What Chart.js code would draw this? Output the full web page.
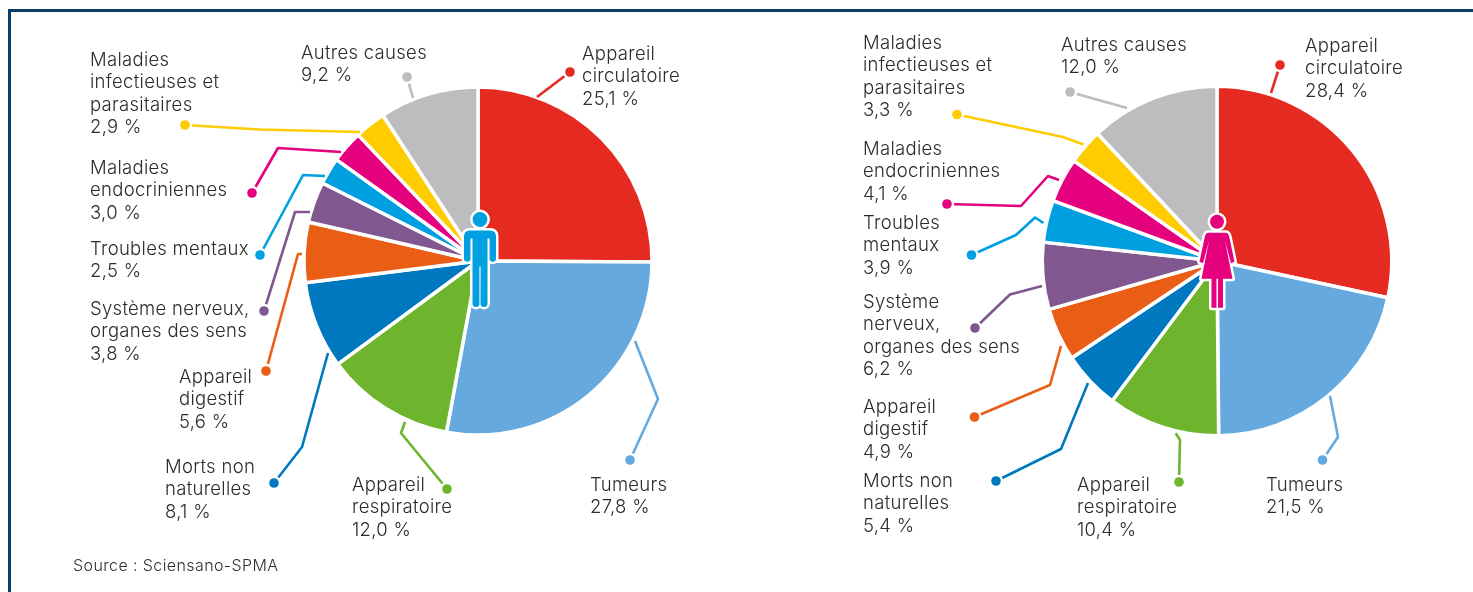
<!DOCTYPE html>
<html><head><meta charset="utf-8">
<style>
html,body{margin:0;padding:0;background:#fff;width:1473px;height:592px;overflow:hidden}
canvas{position:absolute;left:0;top:0}
#frame{position:absolute;left:8px;top:9px;width:1473px;height:600px;border-left:3px solid #0b3f6b;border-top:3px solid #0b3f6b}
</style>
<script src="https://cdn.jsdelivr.net/npm/chart.js@4"></script>
</head><body>
<div id="frame"></div>
<canvas id="men" width="1473" height="592"></canvas>
<canvas id="women" width="1473" height="592"></canvas>
<script>
const categories = ["Appareil circulatoire","Tumeurs","Appareil respiratoire","Morts non naturelles","Appareil digestif","Système nerveux, organes des sens","Troubles mentaux","Maladies endocriniennes","Maladies infectieuses et parasitaires","Autres causes"];
const menValues = [25.1,27.8,12.0,8.1,5.6,3.8,2.5,3.0,2.9,9.2];
const womenValues = [28.4,21.5,10.4,5.4,4.9,6.2,3.9,4.1,3.3,12.0];
const sliceColors = ["#E52A21","#66A9DE","#6EB52D","#0078BF","#EA5D15","#80578F","#009FE0","#E5007D","#FFCC00","#BDBDBF"];
const menLabelLines = [["Appareil","circulatoire"],["Tumeurs"],["Appareil","respiratoire"],["Morts non","naturelles"],["Appareil","digestif"],["Système nerveux,","organes des sens"],["Troubles mentaux"],["Maladies","endocriniennes"],["Maladies","infectieuses et","parasitaires"],["Autres causes"]];
const womenLabelLines = [["Appareil","circulatoire"],["Tumeurs"],["Appareil","respiratoire"],["Morts non","naturelles"],["Appareil","digestif"],["Système","nerveux,","organes des sens"],["Troubles","mentaux"],["Maladies","endocriniennes"],["Maladies","infectieuses et","parasitaires"],["Autres causes"]];
const sourceText = "Source : Sciensano-SPMA";

// layout only: label anchor [x, first baseline] and leader polyline (dot first)
const menLabelPos = [[582,60],[590,491],[352,491],[165,473],[179,383],[90,315],[90,255],[90,174],[90,66],[301,59]];
const womenLabelPos = [[1305,52],[1266,491],[1077,491],[863,487],[863,413],[863,308],[863,229],[863,155],[863,49],[1061,51]];
const menLeaders = [
 [[570,72],[537,97]],[[630,460],[658,399],[635,341]],[[447,489],[401,433],[405,422]],[[274,483],[302,447],[328,353]],
 [[266,371],[298,254],[302,254]],[[264,311],[295,212],[310,212]],[[260,255],[303,175],[325,176]],[[252,193],[278,148],[341,152]],
 [[185,125],[260,129.5],[360,132]],[[407,77],[413,98]]];
const womenLeaders = [
 [[1280,65],[1271,93]],[[1322.5,460],[1338,437],[1330,396]],[[1179,482],[1180,440],[1175.7,433.3]],[[996,481],[1061,449],[1088,383]],
 [[974.5,417],[1050,385],[1061,346]],[[975,328],[1010,294.5],[1042,286]],[[971.5,255],[1016,235],[1035,217.5],[1043.5,223]],[[947,204],[1021,206],[1048,176],[1059,180]],
 [[957,114.5],[1063,137],[1083.5,144.5]],[[1070,92],[1127,108]]];

const FONT = '300 18.5px Inter, Lato, sans-serif';
const TEXT = '#2c2c2c';
const LH = 22.3;
function pct(v){return v.toFixed(1).replace('.',',')+' %';}

function drawMan(c,x,y){ // head centre x,y
  const body = ()=>{
    c.beginPath();
    c.moveTo(x-16,y+17);c.quadraticCurveTo(x-16,y+11,x-10,y+11);c.lineTo(x+10,y+11);c.quadraticCurveTo(x+16,y+11,x+16,y+17);
    c.lineTo(x+16,y+39);c.arc(x+12.8,y+39,3.2,0,Math.PI);c.lineTo(x+9.5,y+19);c.lineTo(x+7.5,y+19);
    c.lineTo(x+7.5,y+84);c.arc(x+4,y+84,3.5,0,Math.PI);c.lineTo(x+.6,y+47);c.lineTo(x-.6,y+47);
    c.lineTo(x-.6,y+84);c.arc(x-4,y+84,3.5,0,Math.PI);c.lineTo(x-7.5,y+19);c.lineTo(x-9.5,y+19);
    c.lineTo(x-9.5,y+39);c.arc(x-12.8,y+39,3.2,0,Math.PI);c.closePath();
  };
  figure(c,x,y,7.4,body,'#009FE0');
}
function drawWoman(c,x,y){
  const body = ()=>{
    c.beginPath();
    c.moveTo(x-9,y+11);c.lineTo(x+9,y+11);
    c.quadraticCurveTo(x+11,y+11,x+12,y+14);c.lineTo(x+17.5,y+40);c.lineTo(x+14,y+41.5);c.lineTo(x+8,y+19);
    c.lineTo(x+15.5,y+57);c.lineTo(x+6,y+57);c.lineTo(x+6,y+86);c.lineTo(x+1,y+86);c.lineTo(x+1,y+57);
    c.lineTo(x-.5,y+57);c.lineTo(x-.5,y+86);c.lineTo(x-5.5,y+86);c.lineTo(x-5.5,y+57);c.lineTo(x-15.5,y+57);
    c.lineTo(x-8,y+19);c.lineTo(x-14,y+41.5);c.lineTo(x-17.5,y+40);c.lineTo(x-12,y+14);
    c.quadraticCurveTo(x-11,y+11,x-9,y+11);c.closePath();
  };
  figure(c,x,y,7,body,'#E5007D');
}
function figure(c,x,y,r,body,col){
  c.save();c.lineJoin='round';c.strokeStyle='#fff';c.lineWidth=5;c.fillStyle='#fff';
  c.beginPath();c.arc(x,y,r+2.5,0,Math.PI*2);c.fill();
  body();c.stroke();c.fill();
  c.fillStyle=col;
  c.beginPath();c.arc(x,y,r,0,Math.PI*2);c.fill();
  body();c.fill();
  c.restore();
}

function annotations(values,lines,pos,leaders,icon,extra){
  return {id:'annot',afterDraw(chart){
    const c=chart.ctx;c.save();
    leaders.forEach((pts,i)=>{
      c.strokeStyle=sliceColors[i];c.lineWidth=2.6;c.lineJoin='round';
      c.beginPath();pts.forEach((p,j)=>j?c.lineTo(p[0],p[1]):c.moveTo(p[0],p[1]));c.stroke();
      c.fillStyle='#fff';c.beginPath();c.arc(pts[0][0],pts[0][1],7.2,0,Math.PI*2);c.fill();
      c.fillStyle=sliceColors[i];c.beginPath();c.arc(pts[0][0],pts[0][1],4.8,0,Math.PI*2);c.fill();
    });
    c.font=FONT;c.fillStyle=TEXT;c.textAlign='left';c.textBaseline='alphabetic';c.letterSpacing='0.3px';
    lines.forEach((ls,i)=>{
      const [x,y]=pos[i];
      [...ls,pct(values[i])].forEach((t,j)=>c.fillText(t,x,y+j*LH));
    });
    icon(c);
    if(extra)extra(c);
    c.restore();
  }};
}
function pie(id,values,cx,cy,R,plugin){
  return new Chart(document.getElementById(id),{
    type:'pie',
    data:{labels:categories,datasets:[{data:values,backgroundColor:sliceColors,borderColor:'#fff',borderWidth:3.5}]},
    options:{responsive:false,animation:false,events:[],
      layout:{padding:{left:cx-R,right:1473-cx-R,top:cy-R,bottom:592-cy-R}},
      plugins:{legend:{display:false},tooltip:{enabled:false}}},
    plugins:[plugin]
  });
}
pie('men',menValues,478,261,175.8,annotations(menValues,menLabelLines,menLabelPos,menLeaders,c=>drawMan(c,480,219.5),c=>{
  c.font='300 16px Inter, Lato, sans-serif';c.letterSpacing='0.4px';c.fillStyle=TEXT;c.fillText(sourceText,73,571);
}));
pie('women',womenValues,1217,261,176.5,annotations(womenValues,womenLabelLines,womenLabelPos,womenLeaders,c=>drawWoman(c,1217,221.7)));
</script>
</body></html>
